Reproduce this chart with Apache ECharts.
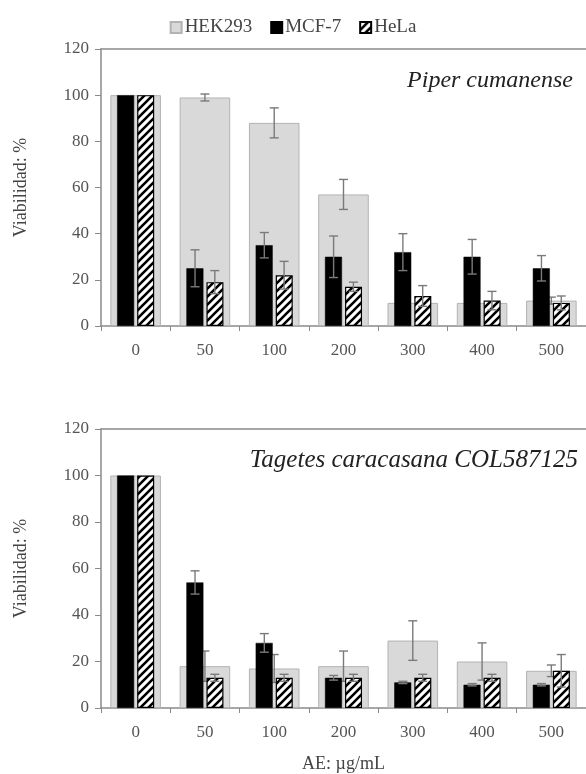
<!DOCTYPE html>
<html>
<head>
<meta charset="utf-8">
<script src="https://cdn.jsdelivr.net/npm/echarts@6/dist/echarts.min.js"></script>
<style>
html,body{margin:0;padding:0;background:#fff;}
#chart{width:586px;height:774px;}
</style>
</head>
<body>
<div id="chart"></div>
<script>
// ---- Data ----
const doses = ['0', '50', '100', '200', '300', '400', '500'];
const yTicks = [0, 20, 40, 60, 80, 100, 120];
const seriesNames = ['HEK293', 'MCF-7', 'HeLa'];
const panelTitles = ['Piper cumanense', 'Tagetes caracasana COL587125'];

const piperHEK = [100, 99, 88, 57, 10, 10, 11];
const piperHEKErr = [0, 1.5, 6.5, 6.5, 0, 0, 1.5];
const piperMCF = [100, 25, 35, 30, 32, 30, 25];
const piperMCFErr = [0, 8, 5.5, 9, 8, 7.5, 5.5];
const piperHeLa = [100, 19, 22, 17, 13, 11, 10];
const piperHeLaErr = [0, 5, 6, 2, 4.5, 4, 3];

const tagHEK = [100, 18, 17, 18, 29, 20, 16];
const tagHEKErr = [0, 6.5, 6, 6.5, 8.5, 8, 2.5];
const tagMCF = [100, 54, 28, 13, 11, 10, 10];
const tagMCFErr = [0, 5, 4, 1, 0.5, 0.5, 0.5];
const tagHeLa = [100, 13, 13, 13, 13, 13, 16];
const tagHeLaErr = [0, 1.5, 1.5, 1.5, 1.5, 1.5, 7];

// ---- Styles ----
const FONT = '"Liberation Serif", "DejaVu Serif", serif';
const AXIS = '#8a8a8a';
const TXT = '#555';

function hatch() {
  const c = document.createElement('canvas');
  const s = 8;
  c.width = s; c.height = s;
  const g = c.getContext('2d');
  g.fillStyle = '#fff';
  g.fillRect(0, 0, s, s);
  g.strokeStyle = '#000';
  g.lineWidth = 2.6;
  g.beginPath();
  g.moveTo(-s, 2 * s); g.lineTo(2 * s, -s);
  g.moveTo(-2 * s, 2 * s); g.lineTo(s, -s);
  g.moveTo(0, 2 * s); g.lineTo(3 * s, -s);
  g.stroke();
  return c;
}
const hatchPattern = { image: hatch(), repeat: 'repeat' };

const grids = [
  { left: 101, right: -6, top: 49, height: 277 },
  { left: 101, right: -6, top: 429, height: 279 }
];

const xAxes = [];
const yAxes = [];
grids.forEach((g, i) => {
  xAxes.push({
    type: 'category', gridIndex: i, data: doses, position: 'bottom',
    axisLine: { lineStyle: { color: AXIS, width: 1.5 } },
    axisTick: { show: true, length: 5, inside: false, lineStyle: { color: AXIS } },
    axisLabel: { fontFamily: FONT, fontSize: 17, color: TXT, margin: 16 },
    name: i === 1 ? 'AE: µg/mL' : '',
    nameLocation: 'middle', nameGap: 47,
    nameTextStyle: { fontFamily: FONT, fontSize: 18, color: '#444' }
  });
  xAxes.push({
    type: 'category', gridIndex: i, data: doses, position: 'top',
    axisLine: { show: true, lineStyle: { color: AXIS, width: 1.5 } },
    axisTick: { show: false }, axisLabel: { show: false }
  });
  yAxes.push({
    type: 'value', gridIndex: i, min: 0, max: 120, interval: 20,
    name: 'Viabilidad: %', nameLocation: 'middle', nameGap: 71,
    nameTextStyle: { fontFamily: FONT, fontSize: 18, color: '#444' },
    axisLine: { show: true, lineStyle: { color: AXIS, width: 1.5 } },
    axisTick: { show: true, length: 6, lineStyle: { color: AXIS } },
    axisLabel: { fontFamily: FONT, fontSize: 17, color: TXT, margin: 12,
      formatter: v => (yTicks.indexOf(v) >= 0 ? String(v) : '') },
    splitLine: { show: false }
  });
});

function errSeries(gi, vals, errs, offsetFrac, z) {
  return {
    type: 'custom', name: 'err', xAxisIndex: gi * 2 + 1, yAxisIndex: gi, z: z,
    silent: true,
    data: vals.map((v, k) => [k, v, errs[k]]),
    renderItem: function (params, api) {
      const k = api.value(0), v = api.value(1), e = api.value(2);
      if (!e) return null;
      const bw = api.size([1, 0])[0];
      const hi = api.coord([k, v + e]);
      const lo = api.coord([k, Math.max(0, v - e)]);
      const x = hi[0] + offsetFrac * bw;
      const cap = 4.5;
      const st = { stroke: '#7a7a7a', lineWidth: 1.4, fill: null };
      return {
        type: 'group', children: [
          { type: 'line', shape: { x1: x, y1: hi[1], x2: x, y2: lo[1] }, style: st },
          { type: 'line', shape: { x1: x - cap, y1: hi[1], x2: x + cap, y2: hi[1] }, style: st },
          { type: 'line', shape: { x1: x - cap, y1: lo[1], x2: x + cap, y2: lo[1] }, style: st }
        ]
      };
    }
  };
}

const panels = [
  [piperHEK, piperHEKErr, piperMCF, piperMCFErr, piperHeLa, piperHeLaErr],
  [tagHEK, tagHEKErr, tagMCF, tagMCFErr, tagHeLa, tagHeLaErr]
];

const series = [];
panels.forEach((p, gi) => {
  series.push({
    type: 'bar', name: seriesNames[0], xAxisIndex: gi * 2, yAxisIndex: gi, z: 1,
    barWidth: '73%', data: p[0],
    itemStyle: { color: '#d9d9d9', borderColor: '#b3b3b3', borderWidth: 1 }
  });
  series.push(errSeries(gi, p[0], p[1], 0, 2));
  series.push({
    type: 'bar', name: seriesNames[1], xAxisIndex: gi * 2 + 1, yAxisIndex: gi, z: 3,
    barWidth: 17, barGap: '18%', data: p[2],
    itemStyle: { color: '#000', borderColor: '#000', borderWidth: 0.5 }
  });
  series.push({
    type: 'bar', name: seriesNames[2], xAxisIndex: gi * 2 + 1, yAxisIndex: gi, z: 3,
    barWidth: 17, barGap: '18%', data: p[4],
    itemStyle: { color: hatchPattern, borderColor: '#000', borderWidth: 1.2 }
  });
  series.push(errSeries(gi, p[2], p[3], -10 / 70, 4));
  series.push(errSeries(gi, p[4], p[5], 10 / 70, 4));
});

const option = {
  animation: false,
  backgroundColor: '#fff',
  legend: {
    data: seriesNames, top: 13, left: 'center', itemGap: 18,
    itemWidth: 11, itemHeight: 11, icon: 'rect',
    textStyle: { fontFamily: FONT, fontSize: 19, color: '#444', padding: [0, 0, 0, -2] }
  },
  graphic: [
    { type: 'text', right: 13, top: 69, style: { text: panelTitles[0], font: 'italic 24px ' + FONT, fill: '#222' } },
    { type: 'text', right: 8, top: 448, style: { text: panelTitles[1], font: 'italic 25px ' + FONT, fill: '#222' } }
  ],
  grid: grids,
  xAxis: xAxes,
  yAxis: yAxes,
  series: series
};

const chart = echarts.init(document.getElementById('chart'), null, { renderer: 'canvas' });
chart.setOption(option);
</script>
</body>
</html>
